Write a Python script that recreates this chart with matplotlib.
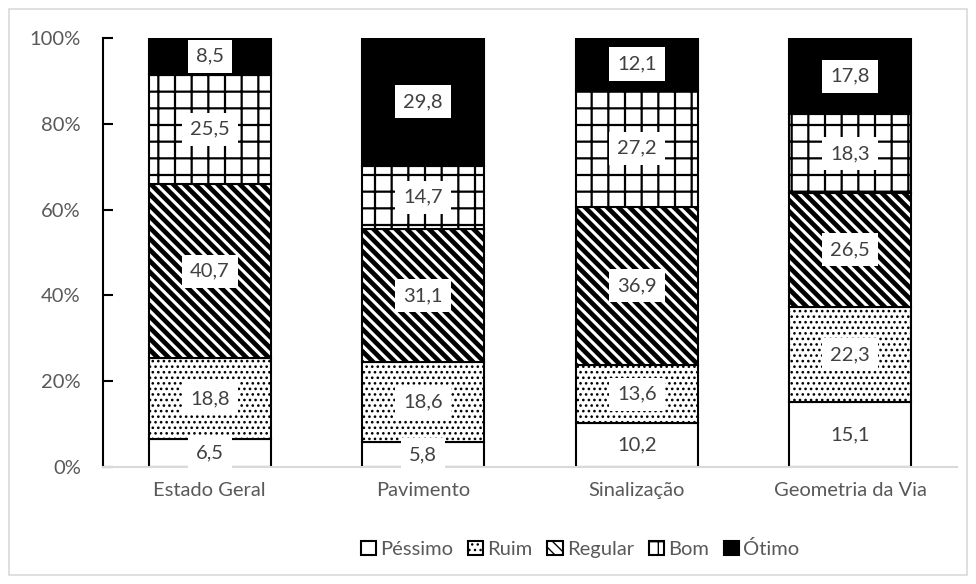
import matplotlib.pyplot as plt
import matplotlib as mpl
import numpy as np
from matplotlib.patches import Rectangle

# data
categories = ['Estado Geral', 'Pavimento', 'Sinalização', 'Geometria da Via']
levels = ['Péssimo', 'Ruim', 'Regular', 'Bom', 'Ótimo']
pessimo = [6.5, 5.8, 10.2, 15.1]
ruim = [18.8, 18.6, 13.6, 22.3]
regular = [40.7, 31.1, 36.9, 26.5]
bom = [25.5, 14.7, 27.2, 18.3]
otimo = [8.5, 29.8, 12.1, 17.8]
series = [pessimo, ruim, regular, bom, otimo]

# styles per level: (face, hatch, hatch linewidth)
styles = [
    ('white', None, 1.0),
    ('white', '...', 1.1),
    ('white', '\\\\\\', 3.4),
    ('white', '+', 1.6),
    ('black', None, 1.0),
]

plt.rcParams['font.family'] = ['Lato', 'DejaVu Sans']
grey = '#595959'

fig = plt.figure(figsize=[9.76, 5.84], dpi=100)
ax = fig.add_axes([103/976, 1-467/584, (957-103)/976, (467-38)/584])

x = np.arange(len(categories))
bottom = np.zeros(len(categories))
handles = []
for lvl, vals, (fc, hatch, hlw) in zip(levels, series, styles):
    with mpl.rc_context({'hatch.linewidth': hlw, 'hatch.color': 'black'}):
        bars = ax.bar(x, vals, 0.57, bottom=bottom, color=fc, edgecolor='black',
                      linewidth=1.5, hatch=hatch, label=lvl)
    handles.append(bars)
    for xi, b, v in zip(x, bottom, vals):
        ax.text(xi, b + v / 2, f'{v:.1f}'.replace('.', ','), ha='center', va='center',
                fontsize=14.5, color='#404040',
                bbox=dict(boxstyle='square,pad=0.4', fc='white', ec='none'))
    bottom += np.array(vals)

ax.set_xlim(-0.5, len(categories) - 0.5)
ax.set_ylim(0, 100)
ax.set_yticks([0, 20, 40, 60, 80, 100])
ax.set_yticklabels(['0%', '20%', '40%', '60%', '80%', '100%'])
ax.set_xticks(x)
ax.set_xticklabels(categories)
ax.tick_params(axis='y', direction='in', length=7, width=1.5, colors='black',
               labelcolor=grey, labelsize=14.5, pad=16)
ax.tick_params(axis='x', length=0, labelcolor=grey, labelsize=14.5, pad=11)
ax.spines['top'].set_visible(False)
ax.spines['right'].set_visible(False)
ax.spines['left'].set_linewidth(1.5)
ax.spines['bottom'].set_color('#d9d9d9')
ax.spines['bottom'].set_linewidth(1.5)

fig.legend(handles=handles, labels=levels, loc='center', bbox_to_anchor=(580/976, 1-549/584),
           ncol=5, frameon=False, fontsize=14.5, labelcolor=grey,
           handlelength=0.75, handleheight=0.75, handletextpad=0.2, columnspacing=0.75)

fig.patches.append(Rectangle((9/976, 9/584), 958/976, 566/584, transform=fig.transFigure,
                             fill=False, ec='#d9d9d9', lw=1.2))

plt.savefig('out.png', dpi=100)
